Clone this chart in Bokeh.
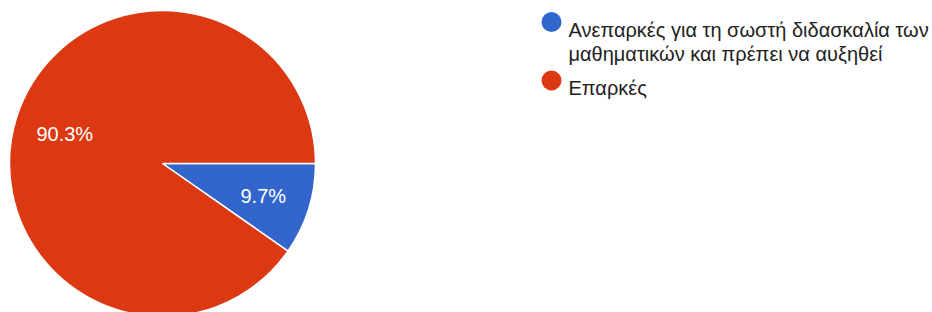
import math
from bokeh.plotting import figure
from bokeh.models import Range1d, ColumnDataSource
from bokeh.core.properties import value
from bokeh.embed import file_html
from bokeh.resources import INLINE

# data
categories = ["Ανεπαρκές για τη σωστή διδασκαλία των\nμαθηματικών και πρέπει να αυξηθεί", "Επαρκές"]
shares = [9.7, 90.3]
colors = ["#3366CC", "#DC3912"]
pct_labels = ["9.7%", "90.3%"]

W, H = 932, 312
p = figure(width=W, height=H, output_backend="svg", toolbar_location=None,
           x_range=Range1d(0, W), y_range=Range1d(0, H), min_border=0)
p.axis.visible = False
p.grid.visible = False
p.outline_line_color = None
p.background_fill_color = "white"
p.border_fill_color = "white"

cx, cy, r = 162, 149, 153
total = sum(shares)
starts, ends, lx, ly = [], [], [], []
acc = 0.0
for s in shares:
    a0 = -2 * math.pi * acc / total
    a1 = -2 * math.pi * (acc + s) / total
    starts.append(a0)
    ends.append(a1)
    mid = (a0 + a1) / 2
    lx.append(cx + 1.5 + 0.68 * r * math.cos(mid))
    ly.append(cy - 1.3 + 0.68 * r * math.sin(mid))
    acc += s

src = ColumnDataSource(dict(start=starts, end=ends, color=colors, lx=lx, ly=ly, lab=pct_labels))
p.wedge(x=cx, y=cy, radius=r, start_angle="start", end_angle="end", direction="clock",
        fill_color="color", line_color="white", line_width=1.5, source=src)
p.text(x="lx", y="ly", text="lab", source=src, text_color="white",
       text_font=value("Liberation Sans"), text_font_size="20px",
       text_align="center", text_baseline="middle")

# legend
leg_x = 551
circ_y = [290.5, 232]
p.scatter(x=[leg_x] * 2, y=circ_y, size=20, fill_color=colors, line_color=None)
lines = []
ys = []
for i, c in enumerate(categories):
    for j, ln in enumerate(c.split("\n")):
        lines.append(ln)
        ys.append(circ_y[i] - 7.5 - 24 * j)
p.text(x=[leg_x + 17] * len(lines), y=ys, text=lines, text_color="#222222",
       text_font=value("Liberation Sans"), text_font_size="20px",
       text_align="left", text_baseline="alphabetic")

open("out.html", "w").write(file_html(p, INLINE))
